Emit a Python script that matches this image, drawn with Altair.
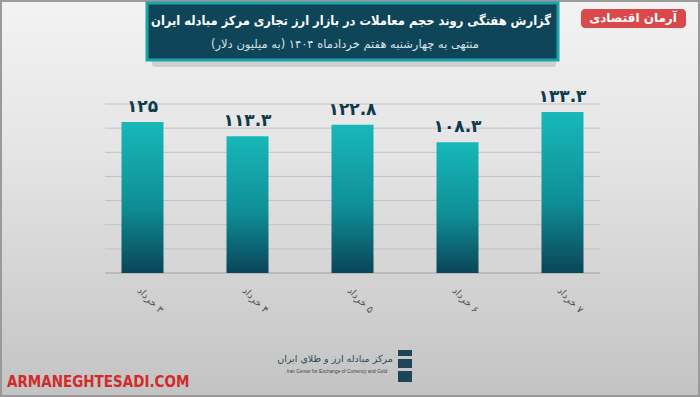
import altair as alt
import pandas as pd

# ---- data ----
days = [3, 4, 5, 6, 7]
values = [125, 113.3, 122.8, 108.3, 133.3]
grid_values = [20, 40, 60, 80, 100, 120, 140]

title_text = "گزارش هفتگی روند حجم معاملات در بازار ارز تجاری مرکز مبادله ایران"
subtitle_text = "منتهی به چهارشنبه هفتم خردادماه ۱۴۰۴ (به میلیون دلار)"
badge_text = "آرمان اقتصادی"
site_text = "ARMANEGHTESADI.COM"
logo_fa = "مرکز مبادله ارز و طلای ایران"
logo_en = "Iran Center for Exchange of Currency and Gold"

FA_DIGITS = str.maketrans("0123456789", "۰۱۲۳۴۵۶۷۸۹")


def fa(s):
    return str(s).translate(FA_DIGITS)


def rtl(s):
    return "\u202B" + s + "\u202C"


df = pd.DataFrame({
    "day": [rtl(fa(d) + " خرداد") for d in days],
    "value": values,
    "label": [fa(f"{v:g}") for v in values],
})
order = list(df["day"])
grid_df = pd.DataFrame({"g": grid_values})
one = pd.DataFrame({"a": [0]})

W, H = 525, 169
PL, PT = 90, 104
FONT = "DejaVu Sans"
CFONT = "DejaVu Sans Condensed, DejaVu Sans"

yscale = alt.Scale(domain=[0, 140])
xenc = alt.X("day:N", sort=order, title=None,
             scale=alt.Scale(paddingInner=0.6, paddingOuter=0.3),
             axis=alt.Axis(labelAngle=45, labelFontSize=10, labelColor="#555555",
                           labelFont=FONT, ticks=False, domain=False, grid=False,
                           labelPadding=12, zindex=1))


def cx(px):
    return alt.value(px - PL)


def cy(py):
    return alt.value(py - PT)


bg = alt.Chart(one).mark_rect(
    fill=alt.Gradient(gradient="linear",
                      stops=[alt.GradientStop(color="#f3f3f3", offset=0),
                             alt.GradientStop(color="#e4e4e4", offset=0.4),
                             alt.GradientStop(color="#c3c3c3", offset=1)],
                      x1=0, x2=0, y1=0, y2=1),
    stroke="#9a9a9a", strokeWidth=2
).encode(x=cx(1), x2=cx(699), y=cy(1), y2=cy(396))

grid = alt.Chart(grid_df).mark_rule(color="#c2c2c2", strokeWidth=1).encode(
    x=cx(105), x2=cx(600),
    y=alt.Y("g:Q", scale=yscale, axis=None))

base_line = alt.Chart(one).mark_rule(color="#a0a0a0", strokeWidth=1.2).encode(
    x=cx(105), x2=cx(600), y=alt.value(H))

bars = alt.Chart(df).mark_bar(
    fill=alt.Gradient(gradient="linear",
                      stops=[alt.GradientStop(color="#18b8b8", offset=0),
                             alt.GradientStop(color="#0f8f98", offset=0.55),
                             alt.GradientStop(color="#0a4558", offset=1)],
                      x1=0, x2=0, y1=0, y2=1)
).encode(x=xenc, y=alt.Y("value:Q", scale=yscale, axis=None))

labels = alt.Chart(df).mark_text(
    font=FONT, fontSize=17, fontWeight="bold", color="#0e3b4c",
    baseline="alphabetic", dy=-10
).encode(x=xenc, y=alt.Y("value:Q", scale=yscale, axis=None), text="label:N")

shadow = alt.Chart(one).mark_rect(fill="#000000", opacity=0.12, cornerRadius=3).encode(
    x=cx(152), x2=cx(556), y=cy(12), y2=cy(67))

title_box = alt.Chart(one).mark_rect(fill="#0f4559", stroke="#1ea3aa", strokeWidth=3).encode(
    x=cx(147), x2=cx(558), y=cy(3), y2=cy(60))

title = alt.Chart(one).mark_text(
    font=CFONT, fontSize=12.8, fontWeight="bold", color="#ffffff",
    align="center", baseline="middle", text=rtl(title_text)
).encode(x=cx(351), y=cy(21))

subtitle = alt.Chart(one).mark_text(
    font=FONT, fontSize=11.5, color="#d6e3e8",
    align="center", baseline="middle", text=rtl(subtitle_text)
).encode(x=cx(345), y=cy(45))

badge = alt.Chart(one).mark_rect(fill="#d9484b", cornerRadius=4).encode(
    x=cx(581), x2=cx(686), y=cy(9), y2=cy(28))

badge_t = alt.Chart(one).mark_text(
    font=FONT, fontSize=12, fontWeight="bold", color="#ffffff",
    align="center", baseline="middle", text=rtl(badge_text)
).encode(x=cx(633), y=cy(18))

site = alt.Chart(one).mark_text(
    font="DejaVu Sans Condensed", fontSize=15, fontWeight="bold", color="#d32a2a",
    align="left", baseline="alphabetic", text=site_text
).encode(x=cx(7), y=cy(387))

logo_fa_t = alt.Chart(one).mark_text(
    font=FONT, fontSize=9.5, color="#2a4a58",
    align="center", baseline="middle", text=rtl(logo_fa)
).encode(x=cx(335), y=cy(359))

logo_en_t = alt.Chart(one).mark_text(
    font="Liberation Sans", fontSize=4.8, color="#444444",
    align="center", baseline="middle", text=logo_en
).encode(x=cx(337), y=cy(372))

icon1 = alt.Chart(one).mark_rect(fill="#1e4656").encode(
    x=cx(398), x2=cx(412), y=cy(350), y2=cy(356))
icon2 = alt.Chart(one).mark_rect(fill="#1e4656").encode(
    x=cx(398), x2=cx(412), y=cy(359), y2=cy(368))
icon3 = alt.Chart(one).mark_rect(fill="#1e4656").encode(
    x=cx(398), x2=cx(412), y=cy(371), y2=cy(382))

chart = alt.layer(
    bg, grid, base_line, bars, labels, shadow, title_box, title, subtitle,
    badge, badge_t, site, logo_fa_t, logo_en_t, icon1, icon2, icon3
).properties(
    width=W, height=H,
    padding={"left": PL, "top": PT, "right": 700 - PL - W, "bottom": 397 - PT - H},
    autosize=alt.AutoSizeParams(type="none"),
).configure_view(stroke=None)

chart.save("out.html", embed_options={"renderer": "svg", "actions": False})
